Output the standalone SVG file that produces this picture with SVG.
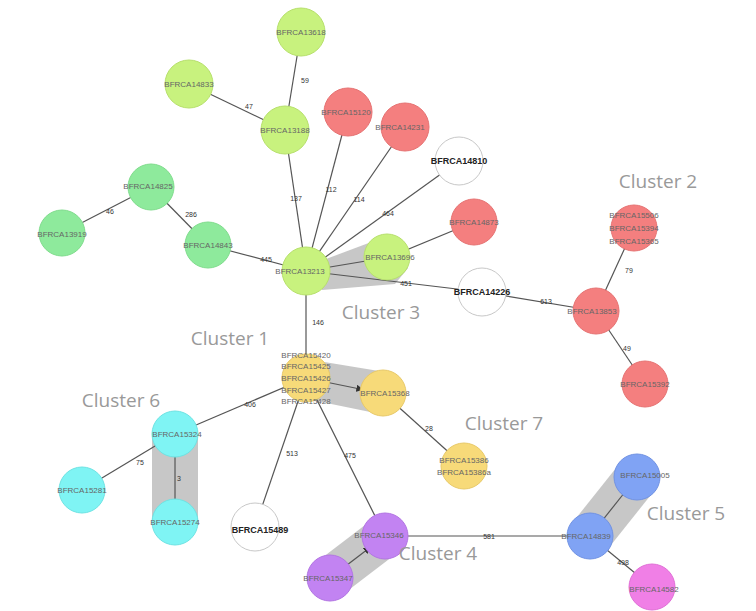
<svg xmlns="http://www.w3.org/2000/svg" width="756" height="611" viewBox="0 0 756 611">
<defs>
<style>
.n{stroke-width:1}
.yg{fill:#c8f27e;stroke:#b7e06c}
.gr{fill:#8eea9c;stroke:#7fdc8c}
.rd{fill:#f47f7f;stroke:#e67272}
.wh{fill:#ffffff;stroke:#c8c8c8}
.ye{fill:#f7da79;stroke:#e8c968}
.cy{fill:#7ff4f4;stroke:#6de3e3}
.pu{fill:#c283f2;stroke:#b274e3}
.bl{fill:#80a3f4;stroke:#7092e3}
.mg{fill:#f07fe6;stroke:#e06fd6}
.t{font-family:"Liberation Sans",Arial,sans-serif;font-size:8px;fill:#666;text-anchor:middle;dominant-baseline:central}
.tb{font-family:"Liberation Sans",Arial,sans-serif;font-size:9px;fill:#222;font-weight:bold;text-anchor:middle;dominant-baseline:central}
.el{font-family:"Liberation Sans",Arial,sans-serif;font-size:7px;fill:#333;text-anchor:middle;dominant-baseline:central}
.cl{font-family:"Open Sans","Liberation Sans",sans-serif;font-size:19px;fill:#999;text-anchor:middle;dominant-baseline:central}
.e{stroke:#555;stroke-width:1.2;fill:none}
.h{fill:#b4b4b4;opacity:0.75}
</style>
<marker id="ar" viewBox="0 0 10 10" refX="5" refY="5" markerWidth="6" markerHeight="6" orient="auto"><path d="M0,0L10,5L0,10z" fill="#333"/></marker>
</defs>
<rect width="756" height="611" fill="#ffffff"/>

<g id="hulls">
<polygon class="h" points="318,262 382,238 408,268 395,284 322,290"/>
<polygon class="h" points="300,358 385,372 398,400 380,414 302,398"/>
<rect class="h" x="152" y="432" width="46" height="90"/>
<polygon class="h" points="369,522 401,550 346,592 314,564"/>
<polygon class="h" points="620,463 654,491 607,550 573,522"/>
</g>

<g id="connectors">
<line class="e" x1="301" y1="32" x2="285" y2="130"/>
<line class="e" x1="189" y1="84" x2="285" y2="130"/>
<line class="e" x1="285" y1="130" x2="306" y2="271"/>
<line class="e" x1="348" y1="112" x2="306" y2="271"/>
<line class="e" x1="405" y1="127" x2="306" y2="271"/>
<line class="e" x1="459" y1="161" x2="306" y2="271"/>
<line class="e" x1="474" y1="222" x2="387" y2="258"/>
<line class="e" x1="306" y1="271" x2="372" y2="260" marker-end="url(#ar)"/>
<line class="e" x1="306" y1="271" x2="482" y2="292"/>
<line class="e" x1="482" y1="292" x2="596" y2="311"/>
<line class="e" x1="151" y1="187" x2="62" y2="233"/>
<line class="e" x1="151" y1="187" x2="208" y2="245"/>
<line class="e" x1="208" y1="245" x2="306" y2="271"/>
<line class="e" x1="306" y1="271" x2="306" y2="378"/>
<line class="e" x1="596" y1="311" x2="634" y2="228"/>
<line class="e" x1="596" y1="311" x2="645" y2="384"/>
<line class="e" x1="306" y1="378" x2="360" y2="389" marker-end="url(#ar)"/>
<line class="e" x1="383" y1="393" x2="464" y2="466"/>
<line class="e" x1="306" y1="378" x2="175" y2="434"/>
<line class="e" x1="175" y1="434" x2="82" y2="490"/>
<line class="e" x1="175" y1="522" x2="175" y2="452" marker-end="url(#ar)"/>
<line class="e" x1="306" y1="378" x2="255" y2="527"/>
<line class="e" x1="306" y1="378" x2="385" y2="536"/>
<line class="e" x1="385" y1="536" x2="590" y2="536"/>
<line class="e" x1="330" y1="578" x2="368" y2="549" marker-end="url(#ar)"/>
<line class="e" x1="590" y1="536" x2="625" y2="492" marker-end="url(#ar)"/>
<line class="e" x1="590" y1="536" x2="652" y2="587"/>
<text class="el" x="305" y="80">59</text>
<text class="el" x="249" y="106">47</text>
<text class="el" x="296" y="198">137</text>
<text class="el" x="331" y="189">112</text>
<text class="el" x="359" y="199">114</text>
<text class="el" x="388" y="213">464</text>
<text class="el" x="406" y="283">451</text>
<text class="el" x="546" y="301">613</text>
<text class="el" x="110" y="211">46</text>
<text class="el" x="191" y="214">286</text>
<text class="el" x="266" y="259">445</text>
<text class="el" x="318" y="322">146</text>
<text class="el" x="629" y="270">79</text>
<text class="el" x="627" y="348">49</text>
<text class="el" x="429" y="428">28</text>
<text class="el" x="250" y="404">406</text>
<text class="el" x="140" y="462">75</text>
<text class="el" x="179" y="478">3</text>
<text class="el" x="292" y="453">513</text>
<text class="el" x="350" y="455">475</text>
<text class="el" x="489" y="536">581</text>
<text class="el" x="623" y="562">498</text>
</g>

<g id="n-13618"><circle class="n yg" cx="301" cy="32" r="24"/><text class="t" x="301" y="32">BFRCA13618</text></g>
<g id="n-14833"><circle class="n yg" cx="189" cy="84" r="24"/><text class="t" x="189" y="84">BFRCA14833</text></g>
<g id="n-13188"><circle class="n yg" cx="285" cy="130" r="24"/><text class="t" x="285" y="130">BFRCA13188</text></g>
<g id="n-15120"><circle class="n rd" cx="348" cy="112" r="24"/><text class="t" x="346" y="112">BFRCA15120</text></g>
<g id="n-14231"><circle class="n rd" cx="405" cy="127" r="24"/><text class="t" x="400" y="127">BFRCA14231</text></g>
<g id="n-14810"><circle class="n wh" cx="459" cy="161" r="24"/><text class="tb" x="459" y="161">BFRCA14810</text></g>
<g id="n-14825"><circle class="n gr" cx="151" cy="187" r="23"/><text class="t" x="148" y="186">BFRCA14825</text></g>
<g id="n-13919"><circle class="n gr" cx="62" cy="233" r="23"/><text class="t" x="62" y="234">BFRCA13919</text></g>
<g id="n-14843"><circle class="n gr" cx="208" cy="245" r="23"/><text class="t" x="208" y="245">BFRCA14843</text></g>
<g id="n-hub"><circle class="n yg" cx="306" cy="271" r="24"/><text class="t" x="300" y="271">BFRCA13213</text></g>
<g id="n-13696"><circle class="n yg" cx="387" cy="257" r="23"/><text class="t" x="390" y="257">BFRCA13696</text></g>
<g id="n-14873"><circle class="n rd" cx="474" cy="222" r="23"/><text class="t" x="474" y="222">BFRCA14873</text></g>
<g id="n-14226"><circle class="n wh" cx="482" cy="292" r="24"/><text class="tb" x="482" y="292">BFRCA14226</text></g>
<g id="n-13853"><circle class="n rd" cx="596" cy="311" r="23"/><text class="t" x="592" y="311">BFRCA13853</text></g>
<g id="n-c2"><circle class="n rd" cx="634" cy="228" r="23"/><text class="t" x="634" y="215">BFRCA15506</text><text class="t" x="634" y="228">BFRCA15394</text><text class="t" x="634" y="241">BFRCA15365</text></g>
<g id="n-15392"><circle class="n rd" cx="645" cy="384" r="23"/><text class="t" x="645" y="384">BFRCA15392</text></g>
<g id="n-c1"><circle class="n ye" cx="306" cy="378" r="24"/><text class="t" x="306" y="355">BFRCA15420</text><text class="t" x="306" y="366">BFRCA15425</text><text class="t" x="306" y="378">BFRCA15426</text><text class="t" x="306" y="390">BFRCA15427</text><text class="t" x="306" y="401">BFRCA15428</text></g>
<g id="n-15368"><circle class="n ye" cx="383" cy="393" r="23"/><text class="t" x="385" y="393">BFRCA15368</text></g>
<g id="n-c7"><circle class="n ye" cx="464" cy="466" r="23"/><text class="t" x="464" y="460">BFRCA15386</text><text class="t" x="464" y="472">BFRCA15386a</text></g>
<g id="n-15324"><circle class="n cy" cx="175" cy="434" r="23"/><text class="t" x="177" y="434">BFRCA15324</text></g>
<g id="n-15281"><circle class="n cy" cx="82" cy="490" r="23"/><text class="t" x="82" y="490">BFRCA15281</text></g>
<g id="n-15274"><circle class="n cy" cx="175" cy="522" r="23"/><text class="t" x="175" y="522">BFRCA15274</text></g>
<g id="n-15489"><circle class="n wh" cx="255" cy="527" r="24"/><text class="tb" x="260" y="530">BFRCA15489</text></g>
<g id="n-15346"><circle class="n pu" cx="385" cy="536" r="23"/><text class="t" x="379" y="535">BFRCA15346</text></g>
<g id="n-15347"><circle class="n pu" cx="330" cy="578" r="23"/><text class="t" x="328" y="578">BFRCA15347</text></g>
<g id="n-14839"><circle class="n bl" cx="590" cy="536" r="23"/><text class="t" x="586" y="536">BFRCA14839</text></g>
<g id="n-15005"><circle class="n bl" cx="637" cy="477" r="23"/><text class="t" x="645" y="475">BFRCA15005</text></g>
<g id="n-14582"><circle class="n mg" cx="652" cy="587" r="23"/><text class="t" x="654" y="589">BFRCA14582</text></g>

<g id="cluster-labels">
<text class="cl" x="230" y="338">Cluster 1</text>
<text class="cl" x="658" y="181">Cluster 2</text>
<text class="cl" x="381" y="312">Cluster 3</text>
<text class="cl" x="438" y="553">Cluster 4</text>
<text class="cl" x="686" y="513">Cluster 5</text>
<text class="cl" x="121" y="400">Cluster 6</text>
<text class="cl" x="504" y="423">Cluster 7</text>
</g>
</svg>
